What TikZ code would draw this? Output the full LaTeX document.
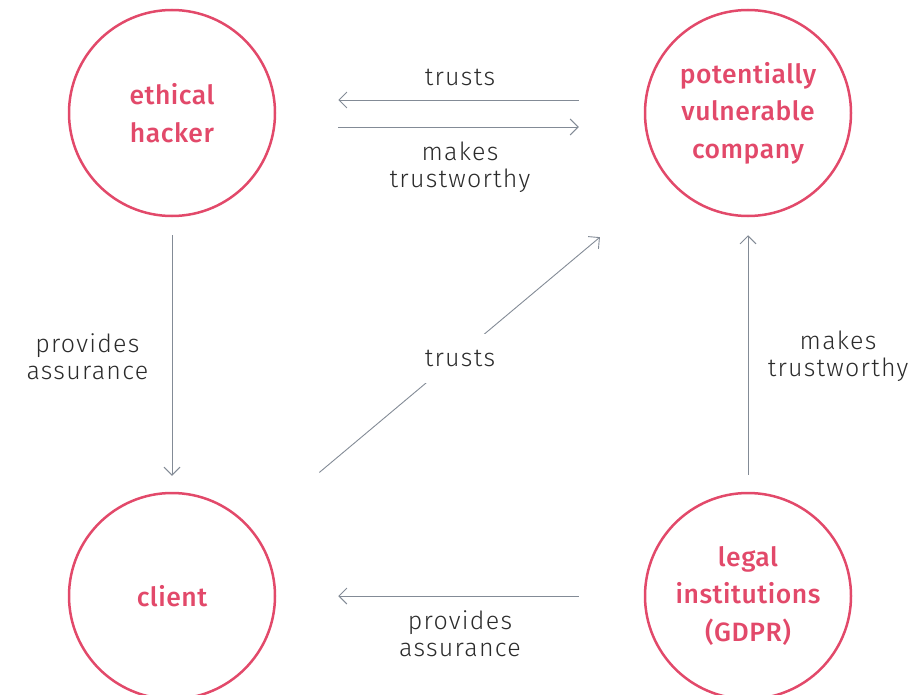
\documentclass[tikz,border=0pt]{standalone}
\usepackage{fontspec}
\setmainfont{Fira Sans}[UprightFont=* Light, BoldFont=* Medium]
\usepackage{tikz}
\usetikzlibrary{arrows.meta}
\definecolor{rose}{HTML}{E2496A}
\definecolor{slate}{HTML}{838B96}
\definecolor{ink}{HTML}{2B2B2B}
\tikzset{party/.style={circle, draw=rose, line width=2.5pt, minimum size=206pt, inner sep=0pt,
            text=rose, align=center, font=\bfseries\fontsize{26.5}{37.5}\selectfont\addfontfeature{LetterSpace=2}},
         link/.style={draw=slate, line width=0.9pt, -{Straight Barb[length=8pt,width=16pt]}},
         say/.style={text=ink, align=center, font=\fontsize{25}{27}\selectfont\addfontfeature{LetterSpace=5}}}

\begin{document}
\begin{tikzpicture}[x=1pt,y=-1pt]
    \useasboundingbox (0,0) rectangle (918,695);
    \node[party] (hacker)  at (172,113) {ethical\\hacker};
    \node[party] (company) at (748,113) {potentially\\vulnerable\\company};
    \node[party] (client)  at (172,596) {client};
    \node[party] (legal)   at (748,596) {legal\\institutions\\(GDPR)};
    % top pair
    \draw[link, shorten <=65pt, shorten >=62pt] ([yshift=13pt]company.west) -- node[say, above=10pt] {trusts} ([yshift=13pt]hacker.east);
    \draw[link, shorten <=62pt, shorten >=65pt] ([yshift=-14pt]hacker.east) -- node[say, below=11pt] {makes\\trustworthy} ([yshift=-14pt]company.west);
    % verticals
    \draw[link, shorten <=18pt, shorten >=16pt] (hacker) -- node[say, left=20pt, yshift=-2pt] {provides\\assurance} (client);
    \draw[link, shorten <=17pt, shorten >=18pt] (legal) -- node[say, right=16pt, yshift=-2pt] {makes\\trustworthy} (company);
    % diagonal and bottom
    \draw[link, shorten <=88pt, shorten >=89pt] (client) -- node[say, fill=white, inner xsep=1pt, inner ysep=16pt, yshift=-4pt] {trusts} (company);
    \draw[link, shorten <=65pt, shorten >=62pt] (legal) -- node[say, below=11pt] {provides\\assurance} (client);
\end{tikzpicture}
\end{document}
